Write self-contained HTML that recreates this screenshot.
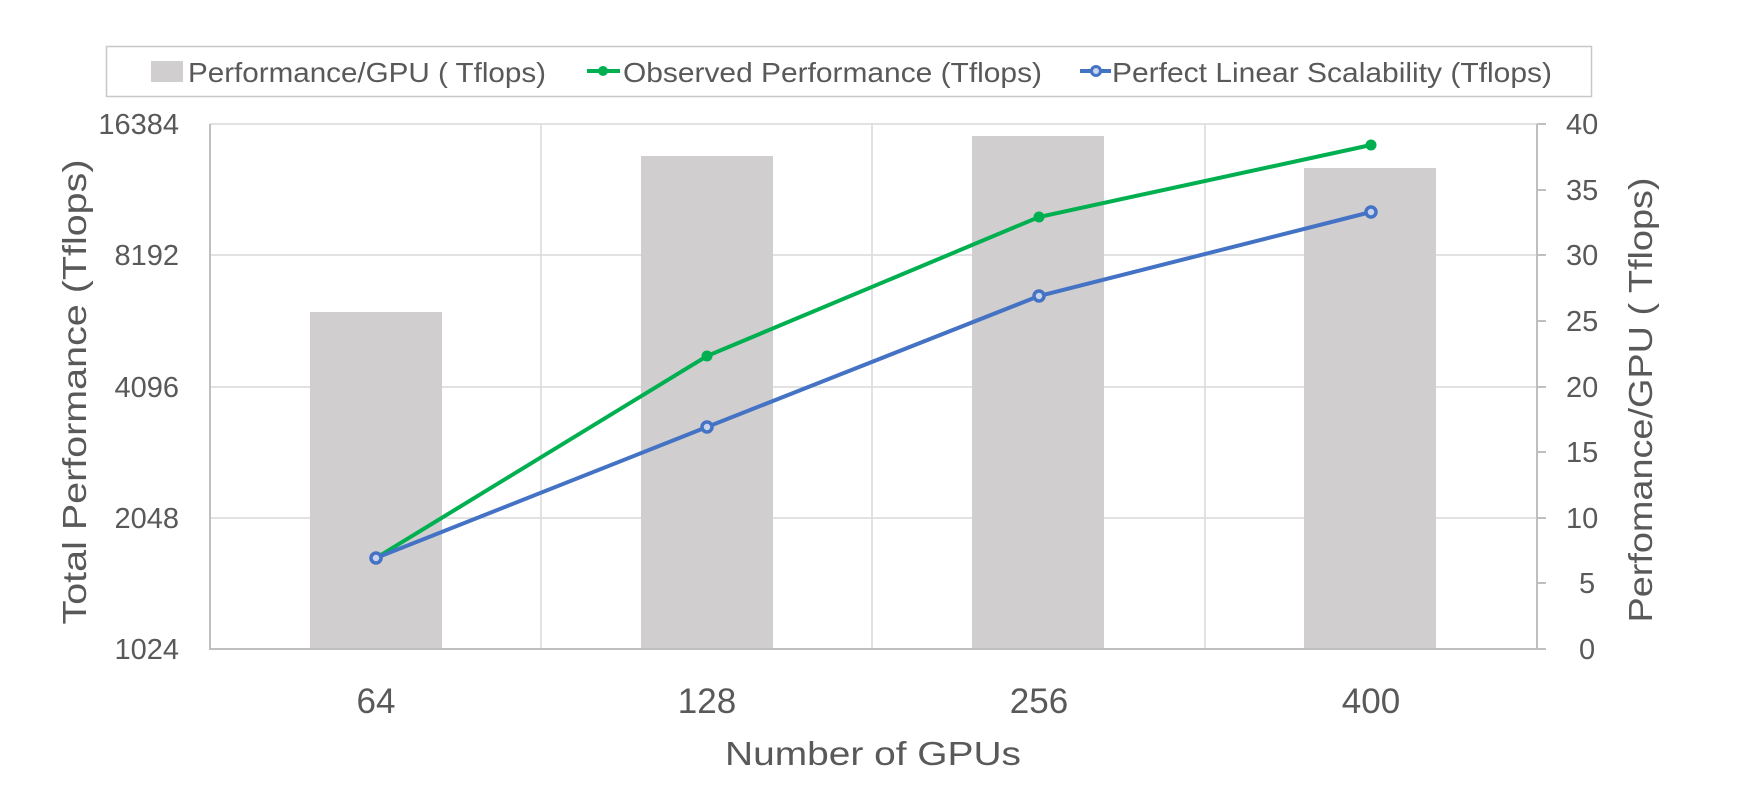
<!DOCTYPE html>
<html><head><meta charset="utf-8"><style>
html,body{margin:0;padding:0;background:#fff;}
svg text{font-family:"Liberation Sans",sans-serif;fill:#595959;}
</style></head><body>
<svg width="1758" height="797" viewBox="0 0 1758 797" xmlns="http://www.w3.org/2000/svg">
<rect width="1758" height="797" fill="#fff"/>
<rect x="106.5" y="46.5" width="1485" height="50" fill="#fff" stroke="#c8c8c8" stroke-width="1.5"/>
<rect x="151" y="61" width="32" height="21" fill="#d0cecf"/>
<text x="188" y="82" font-size="28" textLength="358" lengthAdjust="spacingAndGlyphs">Performance/GPU ( Tflops)</text>
<line x1="587" y1="71" x2="620" y2="71" stroke="#00b050" stroke-width="4"/>
<circle cx="603" cy="71" r="5" fill="#00b050"/>
<text x="623" y="82" font-size="28" textLength="419" lengthAdjust="spacingAndGlyphs">Observed Performance (Tflops)</text>
<line x1="1080" y1="71" x2="1111" y2="71" stroke="#4472c4" stroke-width="4"/>
<circle cx="1096" cy="71" r="4.5" fill="#c8d4ee" stroke="#4472c4" stroke-width="3"/>
<text x="1112" y="82" font-size="28" textLength="440" lengthAdjust="spacingAndGlyphs">Perfect Linear Scalability (Tflops)</text>
<g stroke="#d9d9d9" stroke-width="1.5">
<line x1="210" y1="124" x2="1537" y2="124"/>
<line x1="210" y1="255" x2="1537" y2="255"/>
<line x1="210" y1="387" x2="1537" y2="387"/>
<line x1="210" y1="518" x2="1537" y2="518"/>
<line x1="541" y1="124" x2="541" y2="649"/>
<line x1="872" y1="124" x2="872" y2="649"/>
<line x1="1205" y1="124" x2="1205" y2="649"/>
</g>
<g fill="#d0cecf">
<rect x="310" y="312" width="132" height="337"/>
<rect x="641" y="156" width="132" height="493"/>
<rect x="972" y="136" width="132" height="513"/>
<rect x="1304" y="168" width="132" height="481"/>
</g>
<g stroke="#bfbfbf" stroke-width="2">
<line x1="210" y1="124" x2="210" y2="650"/>
<line x1="210" y1="649" x2="1537" y2="649"/>
<line x1="1537" y1="124" x2="1537" y2="650"/>
<line x1="1537" y1="124" x2="1546" y2="124"/>
<line x1="1537" y1="190" x2="1546" y2="190"/>
<line x1="1537" y1="255" x2="1546" y2="255"/>
<line x1="1537" y1="321" x2="1546" y2="321"/>
<line x1="1537" y1="387" x2="1546" y2="387"/>
<line x1="1537" y1="452" x2="1546" y2="452"/>
<line x1="1537" y1="518" x2="1546" y2="518"/>
<line x1="1537" y1="583" x2="1546" y2="583"/>
<line x1="1537" y1="649" x2="1546" y2="649"/>
</g>
<polyline points="376,558 707,356 1039,217 1371,145" fill="none" stroke="#00b050" stroke-width="4"/>
<g fill="#00b050"><circle cx="376" cy="558" r="5.5"/><circle cx="707" cy="356" r="5.5"/><circle cx="1039" cy="217" r="5.5"/><circle cx="1371" cy="145" r="5.5"/></g>
<polyline points="376,558 707,427 1039,296 1371,212" fill="none" stroke="#4472c4" stroke-width="4"/>
<g fill="#c8d4ee" stroke="#4472c4" stroke-width="3.5"><circle cx="376" cy="558" r="5"/><circle cx="707" cy="427" r="5"/><circle cx="1039" cy="296" r="5"/><circle cx="1371" cy="212" r="5"/></g>
<g font-size="29" text-anchor="end">
<text x="179" y="134">16384</text>
<text x="179" y="265">8192</text>
<text x="179" y="397">4096</text>
<text x="179" y="528">2048</text>
<text x="179" y="659">1024</text>
</g>
<g font-size="29">
<text x="1566" y="134">40</text>
<text x="1566" y="200">35</text>
<text x="1566" y="265">30</text>
<text x="1566" y="331">25</text>
<text x="1566" y="397">20</text>
<text x="1566" y="462">15</text>
<text x="1566" y="528">10</text>
<text x="1579" y="593">5</text>
<text x="1579" y="659">0</text>
</g>
<g font-size="35" text-anchor="middle">
<text x="376" y="713">64</text>
<text x="707" y="713">128</text>
<text x="1039" y="713">256</text>
<text x="1371" y="713">400</text>
</g>
<g font-size="33" text-anchor="middle">
<text x="873" y="765" textLength="296" lengthAdjust="spacingAndGlyphs">Number of GPUs</text>
<text transform="translate(86,392) rotate(-90)" textLength="465" lengthAdjust="spacingAndGlyphs">Total Performance (Tflops)</text>
<text transform="translate(1652,400) rotate(-90)" textLength="445" lengthAdjust="spacingAndGlyphs">Perfomance/GPU ( Tflops)</text>
</g>
</svg>
</body></html>
